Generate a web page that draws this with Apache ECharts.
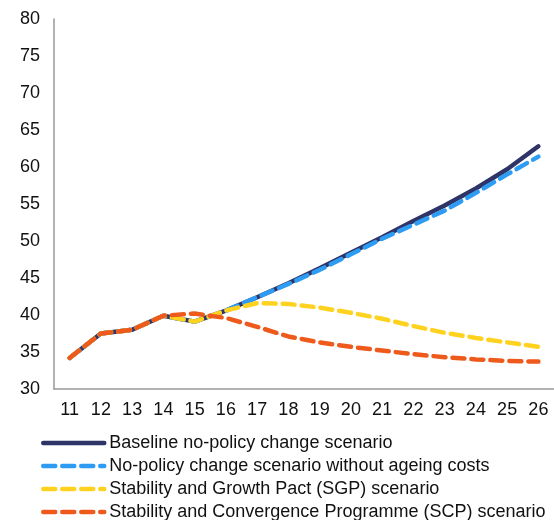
<!DOCTYPE html>
<html>
<head>
<meta charset="utf-8">
<script src="https://cdn.jsdelivr.net/npm/echarts@6/dist/echarts.min.js"></script>
<style>
html,body{margin:0;padding:0;background:#fff;}
#chart{width:554px;height:520px;}
</style>
</head>
<body>
<div id="chart"></div>
<script>
var categories = ['11','12','13','14','15','16','17','18','19','20','21','22','23','24','25','26'];
var baseline = [34.2, 37.5, 38.0, 39.9, 39.1, 40.6, 42.4, 44.3, 46.3, 48.4, 50.5, 52.7, 54.8, 57.1, 59.7, 62.8];
var noAgeing = [34.2, 37.5, 38.0, 39.9, 39.1, 40.6, 42.4, 44.2, 46.1, 48.2, 50.3, 52.2, 54.1, 56.5, 59.0, 61.4];
var sgp = [34.2, 37.5, 38.0, 39.9, 39.1, 40.6, 41.6, 41.5, 41.0, 40.3, 39.5, 38.5, 37.6, 36.9, 36.3, 35.7];
var scp = [34.2, 37.5, 38.0, 39.9, 40.2, 39.6, 38.4, 37.1, 36.3, 35.7, 35.2, 34.7, 34.3, 34.0, 33.8, 33.7];
var seriesNames = ['Baseline no-policy change scenario','No-policy change scenario without ageing costs','Stability and Growth Pact (SGP) scenario','Stability and Convergence Programme (SCP) scenario'];
var yTicks = {min: 30, max: 80, interval: 5};

var colors = ['#2E3368', '#2E9CF2', '#FFD21F', '#EE5A1C'];
var chart = echarts.init(document.getElementById('chart'), null, {renderer: 'canvas'});
function mk(name, data, color, dashed) {
  return {
    name: name, type: 'line', data: data, symbol: 'none', showSymbol: false, smooth: false,
    lineStyle: {color: color, width: 4.5, type: dashed ? [12, 7] : 'solid', cap: 'round'},
    itemStyle: {color: color},
    animation: false
  };
}
chart.setOption({
  animation: false,
  textStyle: {fontFamily: 'Liberation Sans, Arial, sans-serif'},
  grid: {left: 54, right: 0, top: 19, bottom: 131, containLabel: false},
  xAxis: {
    type: 'category', data: categories, boundaryGap: true,
    axisLine: {lineStyle: {color: '#999', width: 1.5}},
    axisTick: {show: false},
    axisLabel: {color: '#111', fontSize: 18, margin: 12}
  },
  yAxis: {
    type: 'value', min: yTicks.min, max: yTicks.max, interval: yTicks.interval,
    axisLine: {show: true, lineStyle: {color: '#999', width: 1.5}},
    axisTick: {show: false},
    splitLine: {show: false},
    axisLabel: {color: '#111', fontSize: 18, margin: 14}
  },
  legend: {
    orient: 'vertical', left: 41, top: 434, height: 200, padding: 0,
    itemWidth: 61, itemHeight: 14, itemGap: 5,
    itemStyle: {opacity: 0},
    lineStyle: {width: 4.5},
    textStyle: {color: '#111', fontSize: 18, padding: [0, 0, 0, 0]},
    data: seriesNames
  },
  series: [
    mk(seriesNames[0], baseline, colors[0], false),
    mk(seriesNames[1], noAgeing, colors[1], true),
    mk(seriesNames[2], sgp, colors[2], true),
    mk(seriesNames[3], scp, colors[3], true)
  ]
});
</script>
</body>
</html>
